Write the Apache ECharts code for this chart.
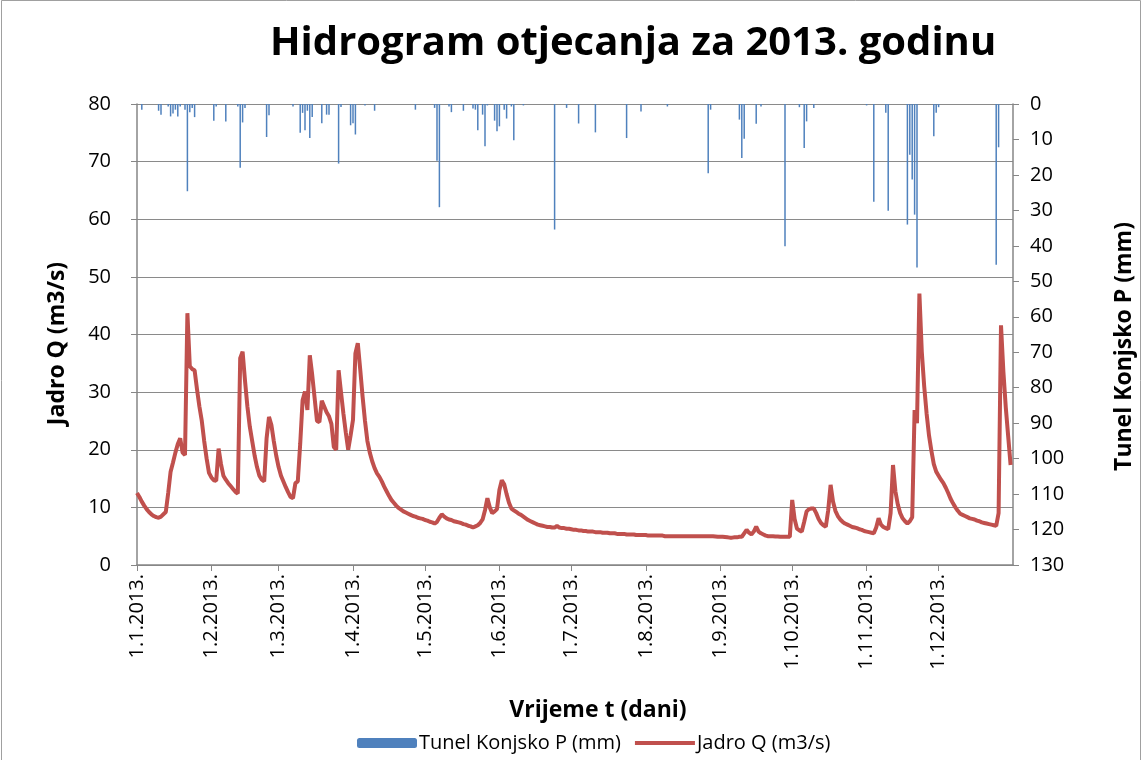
<!DOCTYPE html>
<html>
<head>
<meta charset="utf-8">
<script src="https://cdn.jsdelivr.net/npm/echarts@6/dist/echarts.min.js"></script>
<style>
html,body{margin:0;padding:0;background:#fff;}
#chart{width:1144px;height:760px;}
</style>
</head>
<body>
<div id="chart"></div>
<script>
// Month tick labels and their day index (0 = 1.1.2013.)
const monthLabels = ['1.1.2013.','1.2.2013.','1.3.2013.','1.4.2013.','1.5.2013.','1.6.2013.','1.7.2013.','1.8.2013.','1.9.2013.','1.10.2013.','1.11.2013.','1.12.2013.'];
const monthStart = [0,31,59,90,120,151,181,212,243,273,304,334];
const dayCount = 366;

// Jadro Q (m3/s), daily, by month
const qJan = [12.5,11.8,11.0,10.3,9.7,9.2,8.8,8.5,8.3,8.2,8.4,8.8,9.2,12.5,16.2,17.8,19.5,21.0,22.0,19.5,19.1,43.7,34.5,34.0,33.8,30.5,27.5,25.0,21.5,18.5,16.0];
const qFeb = [15.2,14.7,14.6,20.2,17.5,15.5,14.8,14.2,13.7,13.2,12.7,12.4,35.9,37.0,32.0,27.5,24.0,21.5,19.0,17.0,15.5,14.8,14.5,22.0,25.7,24.3,21.5,19.0];
const qMar = [17.0,15.5,14.5,13.5,12.6,11.8,11.6,14.2,14.5,21.0,28.6,30.1,26.9,36.4,33.0,29.0,25.0,24.8,28.5,27.5,26.5,25.8,24.5,20.5,20.0,33.8,30.0,26.3,23.0,20.0,22.5];
const qApr = [25.2,36.7,38.5,34.0,29.2,25.0,21.5,19.5,18.0,16.8,15.9,15.3,14.5,13.6,12.8,12.0,11.3,10.8,10.3,9.9,9.6,9.3,9.1,8.9,8.7,8.5,8.4,8.2,8.1,8.0];
const qMay = [7.8,7.7,7.5,7.4,7.2,7.5,8.2,8.8,8.4,8.1,7.9,7.8,7.6,7.5,7.4,7.3,7.1,7.0,6.8,6.7,6.5,6.7,6.9,7.3,7.9,9.5,11.6,10.0,9.0,9.3,9.7];
const qJun = [13.0,14.7,14.0,12.3,10.8,9.8,9.5,9.2,8.9,8.7,8.4,8.1,7.8,7.6,7.4,7.2,7.0,6.9,6.8,6.7,6.6,6.6,6.5,6.5,6.8,6.5,6.4,6.4,6.3,6.3];
const qJul = [6.2,6.1,6.1,6.0,6.0,5.9,5.9,5.8,5.8,5.8,5.7,5.7,5.7,5.6,5.6,5.6,5.5,5.5,5.5,5.4,5.4,5.4,5.4,5.3,5.3,5.3,5.3,5.2,5.2,5.2,5.2];
const qAug = [5.2,5.1,5.1,5.1,5.1,5.1,5.1,5.1,5.0,5.0,5.0,5.0,5.0,5.0,5.0,5.0,5.0,5.0,5.0,5.0,5.0,5.0,5.0,5.0,5.0,5.0,5.0,5.0,5.0,4.95,4.9];
const qSep = [4.9,4.9,4.85,4.8,4.75,4.75,4.8,4.8,4.9,4.9,5.5,6.1,5.6,5.3,5.8,6.65,5.8,5.5,5.3,5.1,5.0,5.0,5.0,4.95,4.95,4.9,4.9,4.9,4.9,4.9];
const qOct = [11.3,8.0,6.3,6.0,5.8,7.5,9.3,9.7,9.8,9.8,9.0,8.0,7.3,6.9,6.65,9.5,13.9,11.0,9.4,8.5,7.9,7.5,7.2,7.0,6.8,6.6,6.5,6.4,6.2,6.1,5.9];
const qNov = [5.8,5.7,5.6,5.5,6.5,8.1,7.0,6.6,6.4,6.2,9.0,17.35,12.8,10.5,9.0,8.1,7.6,7.2,7.6,8.3,26.9,24.6,47.1,37.0,31.0,26.3,22.5,19.8,17.5,16.2];
const qDec = [15.5,14.8,14.2,13.4,12.5,11.5,10.7,10.0,9.4,8.9,8.7,8.5,8.3,8.1,8.0,7.9,7.7,7.6,7.4,7.3,7.2,7.1,7.0,6.9,6.8,9.0,41.6,33.5,27.3,22.3,17.35];

// Tunel Konjsko P (mm): rainy days (day index) and amounts
const pDays = [2,9,10,13,14,15,16,17,18,20,21,22,23,24,32,33,37,42,43,44,45,54,55,65,68,69,70,71,72,73,
  77,79,80,84,85,89,90,91,95,99,116,124,125,126,130,131,136,140,141,142,144,145,146,
  149,150,151,153,154,156,157,161,174,179,184,191,204,210,221,
  238,239,251,252,253,258,260,270,276,278,279,282,
  304,307,312,313,321,322,323,324,325,332,333,334,358,359];
const pValues = [1.6,1.9,3.0,0.7,3.5,2.7,1.6,3.5,0.7,1.6,24.6,2.3,1.1,3.7,4.7,0.7,4.9,0.7,18.0,5.2,1.1,9.3,3.2,0.7,8.1,2.5,7.4,1.9,9.6,3.7,
  5.4,3.0,3.0,16.8,0.85,6.0,5.4,8.6,0.4,1.9,1.6,1.1,16.0,29.1,0.7,2.3,1.9,1.3,1.6,7.4,3.0,11.9,0.4,
  4.7,7.7,6.3,1.6,4.1,0.7,10.2,0.4,35.4,1.1,5.5,8.0,9.6,2.1,0.7,
  19.5,1.6,4.4,15.2,9.8,5.6,0.7,40.1,0.9,12.4,4.9,1.1,
  0.4,27.6,2.5,30.1,34.0,14.3,21.3,31.2,46.1,9.1,2.5,0.9,45.3,12.2];

const qValues = [].concat(qJan,qFeb,qMar,qApr,qMay,qJun,qJul,qAug,qSep,qOct,qNov,qDec);
const categories = [];
for (let i = 0; i < dayCount; i++) {
  const m = monthStart.indexOf(i);
  categories.push(m >= 0 ? monthLabels[m] : 'd' + i);
}
const pData = pDays.map((d, i) => [d, pValues[i]]);
const isMonth = (idx) => monthStart.indexOf(idx) >= 0;

const FONT = '"Open Sans"';
const chart = echarts.init(document.getElementById('chart'), null, {renderer: 'canvas'});
chart.setOption({
  animation: false,
  backgroundColor: '#fff',
  textStyle: {fontFamily: FONT, color: '#000'},
  title: {
    text: 'Hidrogram otjecanja za 2013. godinu',
    left: 265, top: 19,
    textStyle: {fontFamily: FONT, fontSize: 40, fontWeight: 'bold', color: '#000'}
  },
  legend: {
    left: 357, top: 733, padding: 0,
    itemWidth: 60, itemHeight: 10, itemGap: 12,
    textStyle: {fontFamily: FONT, fontSize: 20, color: '#000', padding: [0, 0, 0, -3]},
    data: [
      {name: 'Tunel Konjsko P (mm)'},
      {name: 'Jadro Q (m3/s)', itemStyle: {opacity: 0}, lineStyle: {width: 4, color: '#C0504D'}}
    ]
  },
  grid: {left: 137, right: 131, top: 104, bottom: 195, containLabel: false},
  xAxis: {
    type: 'category',
    data: categories,
    boundaryGap: false,
    name: 'Vrijeme t (dani)',
    nameLocation: 'middle',
    nameGap: 134,
    nameTextStyle: {fontFamily: FONT, fontSize: 23, fontWeight: 'bold', color: '#000', padding: [0, 0, 0, 46]},
    axisLine: {lineStyle: {color: '#868686', width: 1.5}},
    axisTick: {show: true, interval: (idx) => isMonth(idx), length: 6, lineStyle: {color: '#868686'}},
    axisLabel: {interval: (idx) => isMonth(idx), rotate: 90, fontFamily: FONT, fontSize: 20, color: '#000', margin: 9},
    splitLine: {show: false}
  },
  yAxis: [{
    type: 'value', min: 0, max: 80, interval: 10, position: 'left',
    name: 'Jadro Q (m3/s)', nameLocation: 'middle', nameGap: 68, nameRotate: 90,
    nameTextStyle: {fontFamily: FONT, fontSize: 23, fontWeight: 'bold', color: '#000', padding: [0, 18, 0, 0]},
    axisLine: {show: true, lineStyle: {color: '#868686', width: 1.5}},
    axisTick: {show: true, length: 6, lineStyle: {color: '#868686'}},
    axisLabel: {fontFamily: FONT, fontSize: 20, color: '#000', margin: 26},
    splitLine: {show: true, lineStyle: {color: '#8a8a8a', width: 1.2}}
  }, {
    type: 'value', min: 0, max: 130, interval: 10, position: 'right', inverse: true,
    name: 'Tunel Konjsko P (mm)', nameLocation: 'middle', nameGap: 100, nameRotate: 90,
    nameTextStyle: {fontFamily: FONT, fontSize: 23, fontWeight: 'bold', color: '#000', padding: [0, 24, 0, 0]},
    axisLine: {show: true, lineStyle: {color: '#868686', width: 1.5}},
    axisTick: {show: true, length: 6, lineStyle: {color: '#868686'}},
    axisLabel: {fontFamily: FONT, fontSize: 20, color: '#000', margin: 17, align: 'left'},
    splitLine: {show: false}
  }],
  series: [{
    name: 'Tunel Konjsko P (mm)',
    type: 'bar',
    yAxisIndex: 1,
    data: pData,
    barWidth: 1.5,
    itemStyle: {color: '#4F81BD'}
  }, {
    name: 'Jadro Q (m3/s)',
    type: 'line',
    yAxisIndex: 0,
    data: qValues,
    symbol: 'none',
    lineStyle: {color: '#C0504D', width: 4},
    itemStyle: {color: '#C0504D'}
  }],
  graphic: [{
    type: 'rect', silent: true,
    shape: {x: 1.5, y: 0.5, width: 1139, height: 800},
    style: {fill: 'none', stroke: '#a0a0a0', lineWidth: 1}
  }]
});
</script>
</body>
</html>
